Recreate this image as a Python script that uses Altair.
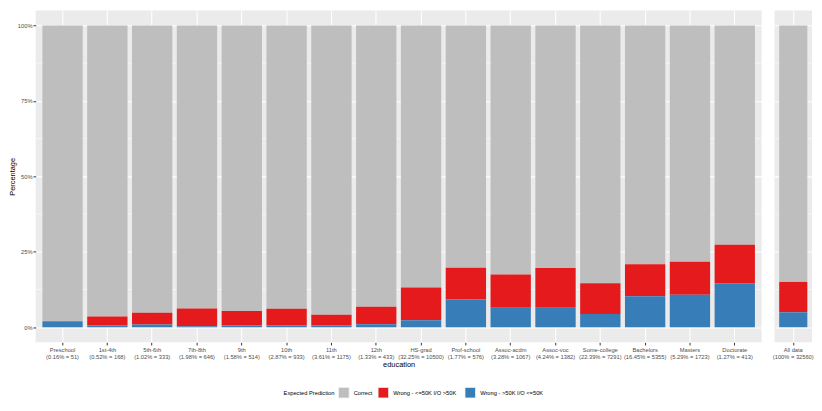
import altair as alt
import pandas as pd

categories = ["Preschool", "1st-4th", "5th-6th", "7th-8th", "9th", "10th", "11th", "12th",
              "HS-grad", "Prof-school", "Assoc-acdm", "Assoc-voc", "Some-college",
              "Bachelors", "Masters", "Doctorate"]
shares = ["0.16%", "0.52%", "1.02%", "1.98%", "1.58%", "2.87%", "3.61%", "1.33%",
          "32.25%", "1.77%", "3.28%", "4.24%", "22.39%", "16.45%", "5.29%", "1.27%"]
counts = [51, 168, 333, 646, 514, 933, 1175, 433, 10500, 576, 1067, 1382, 7291, 5355, 1723, 413]

# percentages per category (bottom: blue, middle: red, top: gray)
blue = [1.96, 0.6, 0.9, 0.3, 0.6, 0.55, 0.6, 0.95, 2.3, 9.2, 6.45, 6.45, 4.4, 10.3, 10.8, 14.55]
red = [0.0, 2.95, 3.9, 5.9, 4.8, 5.55, 3.5, 5.85, 10.9, 10.5, 11.05, 13.15, 10.2, 10.6, 10.9, 12.75]
gray = [98.04, 96.45, 95.2, 93.8, 94.6, 93.9, 95.9, 93.2, 86.8, 80.3, 82.5, 80.4, 85.4, 79.1, 78.3, 72.7]

all_category = "All data"
all_share = "100%"
all_count = 32560
all_blue = 4.95
all_red = 10.05
all_gray = 85.0

levels = ["Correct", "Wrong -  <=50K I/O  >50K", "Wrong -  >50K I/O  <=50K"]
colors = ["#BEBEBE", "#E41A1C", "#377EB8"]

major_y = [0, 0.25, 0.5, 0.75, 1.0]
minor_y = [0.125, 0.375, 0.625, 0.875]


def make_df(cats, shs, cnts, b, r, g):
    rows = []
    for c, s, n, bv, rv, gv in zip(cats, shs, cnts, b, r, g):
        lab = f"{c}\n({s} = {n})"
        rows.append({"label": lab, "pred": levels[0], "value": gv, "ord": 0})
        rows.append({"label": lab, "pred": levels[1], "value": rv, "ord": 1})
        rows.append({"label": lab, "pred": levels[2], "value": bv, "ord": 2})
    return pd.DataFrame(rows)


left_df = make_df(categories, shares, counts, blue, red, gray)
right_df = make_df([all_category], [all_share], [all_count], [all_blue], [all_red], [all_gray])
minor_df = pd.DataFrame({"m": minor_y})

FONT = "Liberation Sans"


def panel(df, width, show_y, xtitle):
    order_labels = list(dict.fromkeys(df["label"]))
    x_axis = alt.Axis(
        title=xtitle, labelAngle=0, labelExpr="split(datum.label, '\\n')",
        labelFontSize=5.8, labelColor="#4D4D4D", labelLineHeight=7, labelPadding=1.5,
        tickColor="#333333", tickSize=2.7, tickWidth=1, domain=False,
        grid=True, gridColor="white", gridWidth=1.07, bandPosition=0.5,
        titleFontSize=7.5, titleColor="black", titleFontWeight="normal", titlePadding=2,
    )
    if show_y:
        y_axis = alt.Axis(
            title="Percentage", values=major_y, format="%", labelFontSize=5.8,
            labelColor="#4D4D4D", tickColor="#333333", tickSize=2.7, tickWidth=1,
            labelPadding=1, domain=False, grid=True, gridColor="white", gridWidth=1.07,
            titleFontSize=7.5, titleColor="black", titleFontWeight="normal", titlePadding=1,
        )
    else:
        y_axis = alt.Axis(
            title="", values=major_y, labels=False, ticks=False, domain=False,
            grid=True, gridColor="white", gridWidth=1.07,
        )
    yscale = alt.Scale(domain=[-0.05, 1.05], nice=False, zero=False)
    xscale = alt.Scale(paddingInner=0.1, paddingOuter=0.15)

    minor = alt.Chart(minor_df).mark_rule(color="white", strokeWidth=0.55).encode(
        y=alt.Y("m:Q", scale=yscale, axis=y_axis)
    )
    bars = alt.Chart(df).mark_bar().encode(
        x=alt.X("label:N", sort=order_labels, scale=xscale, axis=x_axis),
        y=alt.Y("value:Q", stack="normalize", scale=yscale, axis=y_axis),
        color=alt.Color(
            "pred:N",
            scale=alt.Scale(domain=levels, range=colors),
            legend=alt.Legend(
                title="Expected Prediction", orient="none", legendX=251, legendY=381,
                direction="horizontal", titleOrient="left", titleFontSize=5.8,
                titleFontWeight="normal", titleColor="black", titlePadding=3,
                labelFontSize=5.8, labelColor="black", symbolType="square",
                symbolSize=114, symbolStrokeColor="#F2F2F2", symbolStrokeWidth=0.8,
                symbolOpacity=1, columnPadding=3, labelOffset=4,
            ),
        ),
        order=alt.Order("ord:Q", sort="descending"),
    )
    return alt.layer(minor, bars).properties(width=width, height=336)


left = panel(left_df, 735, True, "education")
right = panel(right_df, 38, False, None)

chart = alt.hconcat(left, right, spacing=9).properties(
    padding={"left": 0, "top": 0, "right": 0, "bottom": 0}
).configure(font=FONT).configure_view(fill="#EBEBEB", strokeWidth=0)

chart.save("out.html", embed_options={"renderer": "svg", "actions": False})
